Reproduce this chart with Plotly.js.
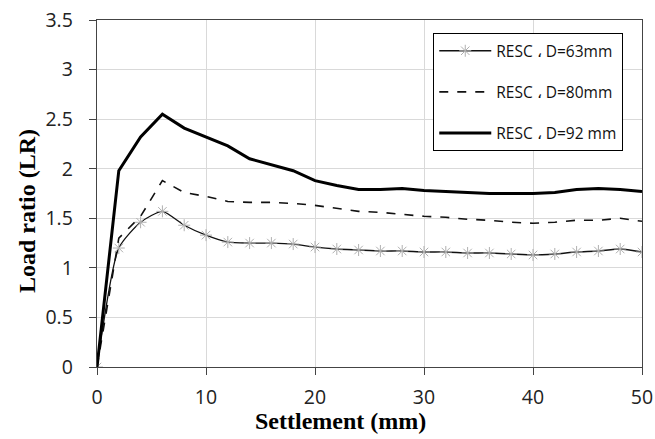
<!DOCTYPE html>
<html>
<head>
<meta charset="utf-8">
<script src="https://cdn.plot.ly/plotly-3.0.1.min.js"></script>
<style>html,body{margin:0;padding:0;background:#fff}#chart{width:655px;height:439px}</style>
</head>
<body>
<div id="chart"></div>
<script>
const settlement = [0,2,4,6,8,10,12,14,16,18,20,22,24,26,28,30,32,34,36,38,40,42,44,46,48,50];
const lr63 = [0,1.20,1.46,1.57,1.43,1.33,1.26,1.25,1.25,1.24,1.21,1.19,1.18,1.17,1.17,1.16,1.16,1.15,1.15,1.14,1.13,1.14,1.16,1.17,1.19,1.16];
const lr80 = [0,1.30,1.52,1.88,1.76,1.72,1.67,1.66,1.66,1.65,1.63,1.60,1.57,1.56,1.54,1.52,1.51,1.49,1.48,1.46,1.45,1.46,1.48,1.48,1.50,1.47];
const lr92 = [0,1.98,2.32,2.55,2.41,2.32,2.23,2.10,2.04,1.98,1.88,1.83,1.79,1.79,1.80,1.78,1.77,1.76,1.75,1.75,1.75,1.76,1.79,1.80,1.79,1.77];
const names = ["RESC \u060C D=63mm", "RESC \u060C D=80mm", "RESC \u060C D=92 mm"];
const xTicks = [0,10,20,30,40,50];
const yTicks = [0,0.5,1,1.5,2,2.5,3,3.5];
const xTitle = "Settlement (mm)";
const yTitle = "Load ratio (LR)";

const traces = [
  {x: settlement, y: lr63, name: names[0], mode: "lines+markers", legendgroup: "a",
   line: {color: "#111", width: 1.3, shape: "spline", smoothing: 0.6},
   marker: {symbol: "asterisk-open", size: 10, color: "#b0b0b0", line: {color: "#b0b0b0", width: 1}}},
  {x: settlement, y: lr80, name: names[1], mode: "lines", legendgroup: "b",
   line: {color: "#111", width: 1.6, dash: "dash"}},
  {x: settlement, y: lr92, name: names[2], mode: "lines", legendgroup: "c",
   line: {color: "#000", width: 3}}
];

const axisCommon = {
  showgrid: true, gridcolor: "#d9d9d9", gridwidth: 1,
  showline: true, linecolor: "#444", linewidth: 1.3, mirror: true,
  ticks: "outside", ticklen: 7, tickcolor: "#444",
  tickfont: {family: "Open Sans, Liberation Sans, sans-serif", size: 19.5, color: "#222"},
  zeroline: false
};

const titleFont = {family: "Liberation Serif, Times New Roman, serif", size: 24, color: "#000", weight: "bold"};

const layout = {
  width: 655, height: 439,
  margin: {l: 97, r: 13, t: 20, b: 72},
  paper_bgcolor: "#fff", plot_bgcolor: "#fff",
  xaxis: Object.assign({}, axisCommon, {
    range: [0, 50], tickvals: xTicks, ticktext: xTicks.map(String), ticklabelstandoff: 5
  }),
  yaxis: Object.assign({}, axisCommon, {
    range: [0, 3.5], tickvals: yTicks, ticktext: yTicks.map(String), ticklabelstandoff: 12
  }),
  annotations: [
    {text: xTitle, xref: "paper", yref: "paper", x: (340 - 97) / 545, y: (367 - 421) / 347,
     xanchor: "center", yanchor: "middle", showarrow: false, font: titleFont},
    {text: yTitle, xref: "paper", yref: "paper", x: (27 - 97) / 545, y: (367 - 211) / 347,
     xanchor: "center", yanchor: "middle", showarrow: false, textangle: -90, font: titleFont}
  ],
  showlegend: true,
  legend: {
    x: 0.617, y: 0.962, xanchor: "left", yanchor: "top",
    bgcolor: "#fff", bordercolor: "#000", borderwidth: 1,
    font: {family: "Open Sans, Liberation Sans, sans-serif", size: 15.5, color: "#111"},
    traceorder: "grouped", tracegroupgap: 18, itemwidth: 52
  }
};

Plotly.newPlot("chart", traces, layout, {displayModeBar: false, staticPlot: true});
</script>
</body>
</html>
